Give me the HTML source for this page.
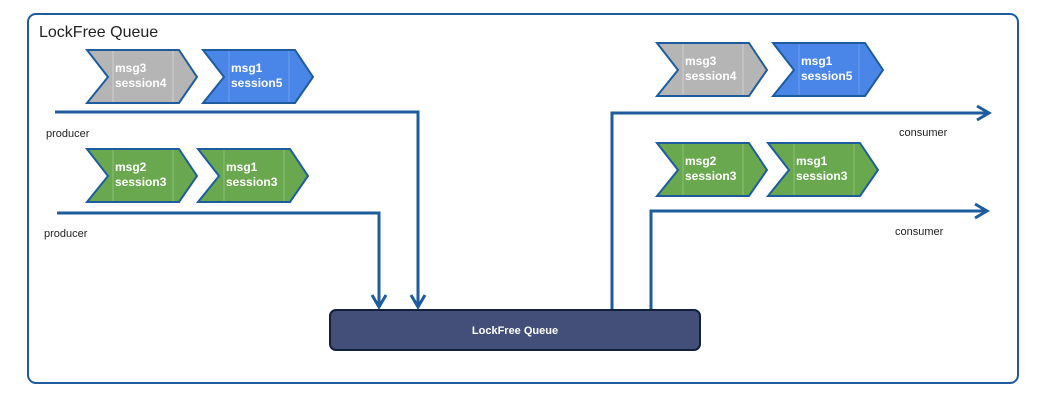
<!DOCTYPE html>
<html><head><meta charset="utf-8"><style>
html,body{margin:0;padding:0;background:#fff;}
svg{display:block;font-family:"Liberation Sans",Arial,sans-serif;}
</style></head><body>
<svg width="1052" height="403" viewBox="0 0 1052 403" xmlns="http://www.w3.org/2000/svg">
<defs>
<g id="chev">
<path d="M0,0 H92 L110,27 L92,53 H0 L21,27 Z" stroke="#1f5c9e" stroke-width="2"/>
</g>
</defs>
<rect x="28" y="14" width="990" height="369" rx="8" fill="#fff" stroke="#1f5c9e" stroke-width="2"/>
<text x="39" y="37" font-size="16" fill="#222">LockFree Queue</text>

<g font-size="12" font-weight="bold" fill="#fff">
<g transform="translate(87,50)"><use href="#chev" fill="#b5b5b5"/><line x1="26" y1="1" x2="26" y2="52" stroke="#d0d0d0"/><line x1="86" y1="1" x2="86" y2="52" stroke="#d0d0d0"/><text x="28" y="22">msg3</text><text x="28" y="37">session4</text></g>
<g transform="translate(203,50)"><use href="#chev" fill="#4a86e8"/><line x1="26" y1="1" x2="26" y2="52" stroke="#6d9eee"/><line x1="86" y1="1" x2="86" y2="52" stroke="#6d9eee"/><text x="28" y="22">msg1</text><text x="28" y="37">session5</text></g>
<g transform="translate(87,149)"><use href="#chev" fill="#6aa84f"/><line x1="26" y1="1" x2="26" y2="52" stroke="#8cbf77"/><line x1="86" y1="1" x2="86" y2="52" stroke="#8cbf77"/><text x="28" y="22">msg2</text><text x="28" y="37">session3</text></g>
<g transform="translate(198,149)"><use href="#chev" fill="#6aa84f"/><line x1="26" y1="1" x2="26" y2="52" stroke="#8cbf77"/><line x1="86" y1="1" x2="86" y2="52" stroke="#8cbf77"/><text x="28" y="22">msg1</text><text x="28" y="37">session3</text></g>
<g transform="translate(657,43)"><use href="#chev" fill="#b5b5b5"/><line x1="26" y1="1" x2="26" y2="52" stroke="#d0d0d0"/><line x1="86" y1="1" x2="86" y2="52" stroke="#d0d0d0"/><text x="28" y="22">msg3</text><text x="28" y="37">session4</text></g>
<g transform="translate(773,43)"><use href="#chev" fill="#4a86e8"/><line x1="26" y1="1" x2="26" y2="52" stroke="#6d9eee"/><line x1="86" y1="1" x2="86" y2="52" stroke="#6d9eee"/><text x="28" y="22">msg1</text><text x="28" y="37">session5</text></g>
<g transform="translate(657,143)"><use href="#chev" fill="#6aa84f"/><line x1="26" y1="1" x2="26" y2="52" stroke="#8cbf77"/><line x1="86" y1="1" x2="86" y2="52" stroke="#8cbf77"/><text x="28" y="22">msg2</text><text x="28" y="37">session3</text></g>
<g transform="translate(768,143)"><use href="#chev" fill="#6aa84f"/><line x1="26" y1="1" x2="26" y2="52" stroke="#8cbf77"/><line x1="86" y1="1" x2="86" y2="52" stroke="#8cbf77"/><text x="28" y="22">msg1</text><text x="28" y="37">session3</text></g>
</g>

<g fill="none" stroke="#1f5c9e" stroke-width="3">
<path d="M55,112 H418 V307"/>
<path d="M411,295 L418,307 L425,295"/>
<path d="M57,213 H379 V307"/>
<path d="M372,295 L379,307 L386,295"/>
<path d="M612,310 V113 H989"/>
<path d="M977,106 L989,113 L977,120"/>
<path d="M651,310 V211 H987"/>
<path d="M975,204 L987,211 L975,218"/>
</g>

<g font-size="11" fill="#222">
<text x="46" y="137">producer</text>
<text x="44" y="237">producer</text>
<text x="899" y="136">consumer</text>
<text x="895" y="235">consumer</text>
</g>

<rect x="330" y="310" width="370" height="40" rx="6" fill="#434f78" stroke="#14213d" stroke-width="2"/>
<text x="515" y="334" font-size="11" font-weight="bold" fill="#fff" text-anchor="middle">LockFree Queue</text>
</svg>
</body></html>
